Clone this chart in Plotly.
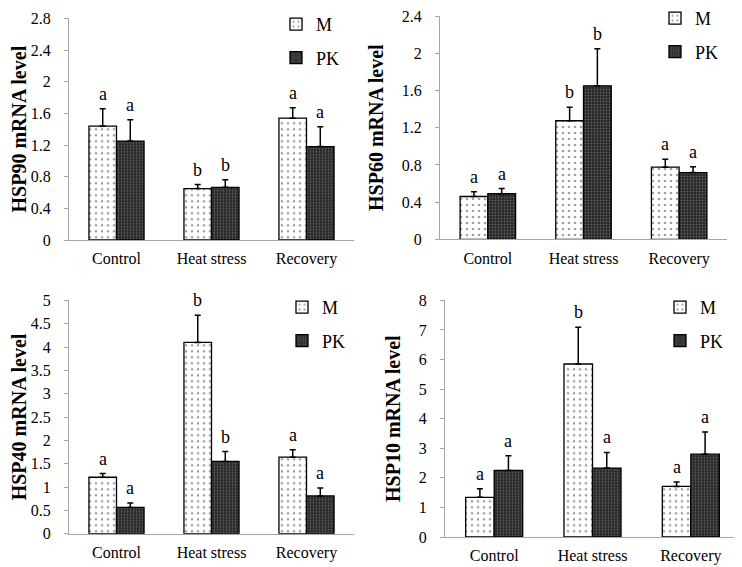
import plotly.graph_objects as go

categories = ["Control", "Heat stress", "Recovery"]

genes = ["HSP90", "HSP60", "HSP40", "HSP10"]
m_values = {
    "HSP90": [1.44, 0.65, 1.54],
    "HSP60": [0.46, 1.275, 0.776],
    "HSP40": [1.21, 4.10, 1.64],
    "HSP10": [1.34, 5.85, 1.71],
}
m_errors = {
    "HSP90": [0.22, 0.05, 0.13],
    "HSP60": [0.05, 0.145, 0.085],
    "HSP40": [0.08, 0.58, 0.16],
    "HSP10": [0.29, 1.24, 0.15],
}
pk_values = {
    "HSP90": [1.25, 0.665, 1.18],
    "HSP60": [0.49, 1.65, 0.717],
    "HSP40": [0.564, 1.55, 0.81],
    "HSP10": [2.25, 2.33, 2.80],
}
pk_errors = {
    "HSP90": [0.27, 0.095, 0.25],
    "HSP60": [0.055, 0.40, 0.063],
    "HSP40": [0.093, 0.21, 0.17],
    "HSP10": [0.50, 0.53, 0.75],
}
m_letters = {
    "HSP90": ["a", "b", "a"],
    "HSP60": ["a", "b", "a"],
    "HSP40": ["a", "b", "a"],
    "HSP10": ["a", "b", "a"],
}
pk_letters = {
    "HSP90": ["a", "b", "a"],
    "HSP60": ["a", "b", "a"],
    "HSP40": ["a", "b", "a"],
    "HSP10": ["a", "a", "a"],
}
y_ticks = {
    "HSP90": [0, 0.4, 0.8, 1.2, 1.6, 2, 2.4, 2.8],
    "HSP60": [0, 0.4, 0.8, 1.2, 1.6, 2, 2.4],
    "HSP40": [0, 0.5, 1, 1.5, 2, 2.5, 3, 3.5, 4, 4.5, 5],
    "HSP10": [0, 1, 2, 3, 4, 5, 6, 7, 8],
}

# page has an 8px body margin; the figure is sized to fit the 742x567 window
OFF = 8
W, H = 742 - OFF, 567 - OFF
# panel pixel boxes in window coordinates: (left, right, top, bottom)
boxes = {
    "HSP90": (69, 354, 18.3, 240),
    "HSP60": (440, 727, 16, 239.3),
    "HSP40": (69, 354, 300.3, 533.7),
    "HSP10": (445, 740, 300.3, 537),
}
legend_pos = {
    "HSP90": (276, 6),
    "HSP60": (655, 0),
    "HSP40": (282, 289),
    "HSP10": (660, 289),
}

SERIF = "Liberation Serif, Times New Roman, serif"
BARGAP = 0.42
bw = (1 - BARGAP) / 2

fig = go.Figure()
annotations = []
layout = {}

for k, g in enumerate(genes):
    n = "" if k == 0 else str(k + 1)
    xa, ya = "x" + n, "y" + n
    leg = "legend" + n
    l, r, t, b = [v - OFF for v in boxes[g]]
    fig.add_trace(go.Bar(
        x=categories, y=m_values[g], name="M", xaxis=xa, yaxis=ya, legend=leg,
        legendgroup="M" + n,
        marker=dict(color="white", line=dict(color="black", width=1.3),
                    pattern=dict(shape=".", fgcolor="#444", bgcolor="white", size=6, solidity=0.16)),
        error_y=dict(type="data", array=m_errors[g], arrayminus=[0, 0, 0], symmetric=False,
                     color="black", thickness=1.5, width=3),
    ))
    fig.add_trace(go.Bar(
        x=categories, y=pk_values[g], name="PK", xaxis=xa, yaxis=ya, legend=leg,
        legendgroup="PK" + n,
        marker=dict(color="#333", line=dict(color="black", width=1.3),
                    pattern=dict(shape=".", fgcolor="#999", bgcolor="#262626", size=3, solidity=0.3)),
        error_y=dict(type="data", array=pk_errors[g], arrayminus=[0, 0, 0], symmetric=False,
                     color="black", thickness=1.5, width=3),
    ))
    layout["xaxis" + n] = dict(
        domain=[max(0.0, l / W), min(1.0, r / W)], anchor=ya, type="category", range=[-0.5, 2.5],
        showline=True, linecolor="#a6a6a6", linewidth=1, ticks="", showgrid=False,
        tickfont=dict(family=SERIF, size=16, color="black"), ticklabelstandoff=4,
        automargin=False,
    )
    layout["yaxis" + n] = dict(
        domain=[max(0.0, (H - b) / H), min(1.0, (H - t) / H)], anchor=xa,
        range=[0, y_ticks[g][-1] * 1.0005], tickmode="array", tickvals=y_ticks[g],
        ticktext=[f"{v:g}" for v in y_ticks[g]], ticklabeloverflow="allow",
        showline=True, linecolor="#a6a6a6", linewidth=1, ticks="outside", ticklen=4,
        tickcolor="#a6a6a6", showgrid=False, zeroline=False, ticklabelstandoff=10,
        tickfont=dict(family=SERIF, size=16, color="black"), automargin=False,
        title=dict(text="<b>" + g + " mRNA level</b>", font=dict(family=SERIF, size=20, color="black"),
                   standoff=12),
    )
    lx, ly = legend_pos[g]
    layout[leg] = dict(
        x=(lx - OFF) / W, y=(H - (ly - OFF)) / H, xanchor="left", yanchor="top",
        bgcolor="rgba(0,0,0,0)",
        font=dict(family=SERIF, size=18, color="black"), traceorder="grouped",
        tracegroupgap=7, itemwidth=30,
    )
    for i in range(3):
        annotations.append(dict(
            x=i - bw / 2, y=m_values[g][i] + m_errors[g][i], xref=xa, yref=ya,
            text=m_letters[g][i], showarrow=False, yanchor="bottom", yshift=3,
            font=dict(family=SERIF, size=18, color="black"),
        ))
        annotations.append(dict(
            x=i + bw / 2, y=pk_values[g][i] + pk_errors[g][i], xref=xa, yref=ya,
            text=pk_letters[g][i], showarrow=False, yanchor="bottom", yshift=3,
            font=dict(family=SERIF, size=18, color="black"),
        ))

fig.update_layout(
    width=W, height=H, margin=dict(l=0, r=0, t=0, b=0, autoexpand=False),
    paper_bgcolor="white", plot_bgcolor="white",
    barmode="group", bargap=BARGAP, bargroupgap=0,
    annotations=annotations, showlegend=True,
    **layout,
)

fig.write_html("out.html")
